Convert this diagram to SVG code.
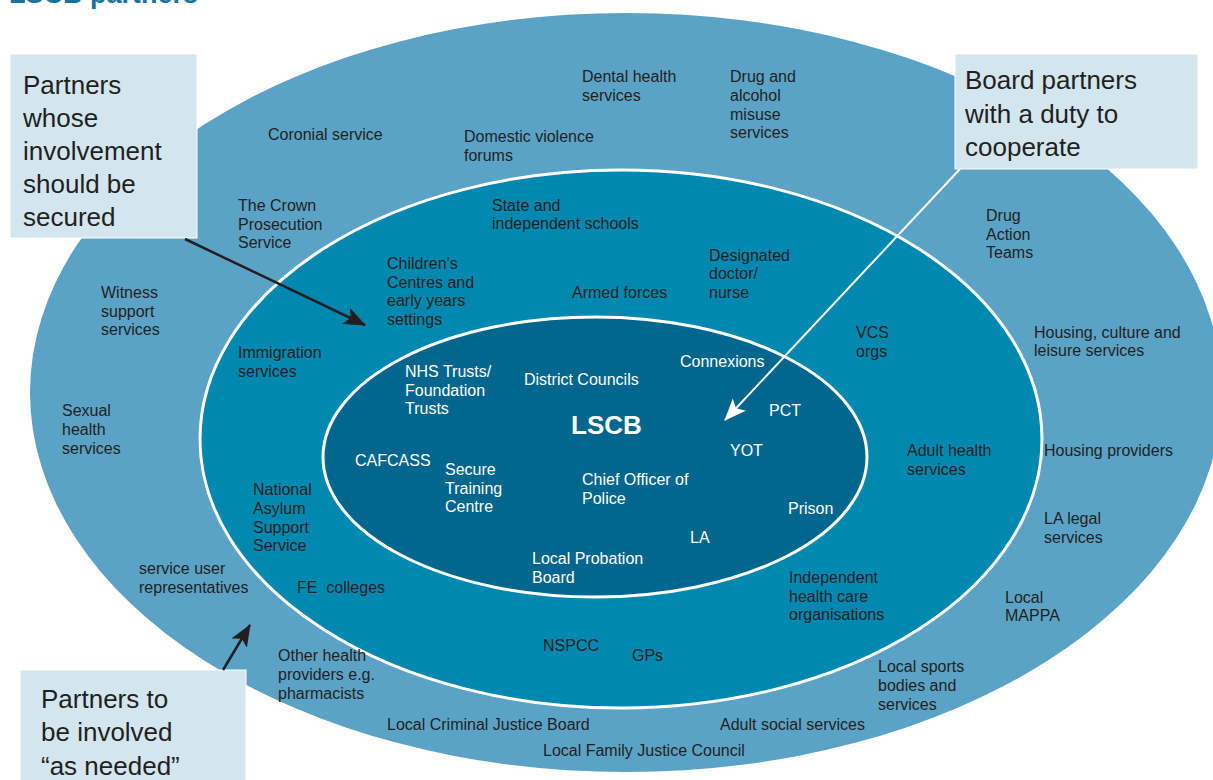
<svg xmlns="http://www.w3.org/2000/svg" width="1213" height="780" viewBox="0 0 1213 780">
<defs>
<style>
text{font-family:"Liberation Sans",Arial,sans-serif;font-size:16px;fill:#231f20}
.w{fill:#ffffff}
.call{font-size:26px;fill:#231f20}
.box{fill:#d3e6ef;stroke:#ffffff;stroke-width:1}
.ring{stroke:#ffffff;stroke-width:3}
</style>
<marker id="ahB" markerUnits="userSpaceOnUse" markerWidth="24" markerHeight="20" refX="21" refY="9" orient="auto">
<path d="M0,0 L22,9 L0,18 L5,9 z" fill="#231f20"/>
</marker>
<marker id="ahW" markerUnits="userSpaceOnUse" markerWidth="24" markerHeight="20" refX="21" refY="9" orient="auto">
<path d="M0,0 L22,9 L0,18 L5,9 z" fill="#ffffff"/>
</marker>
</defs>
<rect width="1213" height="780" fill="#ffffff"/>
<text x="9" y="3" style="font-size:27px;font-weight:bold;fill:#17739f">LSCB partners</text>

<g id="rings">
<ellipse id="outer" cx="626" cy="392.5" rx="596" ry="379.5" fill="#5ba3c6"/>
<ellipse id="middle" class="ring" cx="621" cy="439" rx="421" ry="269" fill="#0088b0"/>
<ellipse id="inner" class="ring" cx="595" cy="457" rx="272" ry="140" fill="#02668f"/>
</g>

<g id="outer-labels">
<g id="n-coronial"><text x="268" y="140">Coronial service</text></g>
<g id="n-dental"><text x="582" y="82">Dental health</text><text x="582" y="101">services</text></g>
<g id="n-drugalcohol"><text x="730" y="82">Drug and</text><text x="730" y="101">alcohol</text><text x="730" y="120">misuse</text><text x="730" y="138">services</text></g>
<g id="n-domestic"><text x="464" y="142">Domestic violence</text><text x="464" y="161">forums</text></g>
<g id="n-crown"><text x="238" y="211">The Crown</text><text x="238" y="230">Prosecution</text><text x="238" y="248">Service</text></g>
<g id="n-witness"><text x="101" y="298">Witness</text><text x="101" y="317">support</text><text x="101" y="335">services</text></g>
<g id="n-sexual"><text x="62" y="416">Sexual</text><text x="62" y="435">health</text><text x="62" y="454">services</text></g>
<g id="n-serviceuser"><text x="139" y="574">service user</text><text x="139" y="593">representatives</text></g>
<g id="n-otherhealth"><text x="278" y="661">Other health</text><text x="278" y="680">providers e.g.</text><text x="278" y="699">pharmacists</text></g>
<g id="n-lcjb"><text x="387" y="730">Local Criminal Justice Board</text></g>
<g id="n-lfjc"><text x="543" y="756">Local Family Justice Council</text></g>
<g id="n-adultsocial"><text x="720" y="730">Adult social services</text></g>
<g id="n-sports"><text x="878" y="672">Local sports</text><text x="878" y="691">bodies and</text><text x="878" y="710">services</text></g>
<g id="n-mappa"><text x="1005" y="603">Local</text><text x="1005" y="621">MAPPA</text></g>
<g id="n-lalegal"><text x="1044" y="524">LA legal</text><text x="1044" y="543">services</text></g>
<g id="n-housingprov"><text x="1044" y="456">Housing providers</text></g>
<g id="n-housingcult"><text x="1034" y="338">Housing, culture and</text><text x="1034" y="356">leisure services</text></g>
<g id="n-dat"><text x="986" y="221">Drug</text><text x="986" y="240">Action</text><text x="986" y="258">Teams</text></g>
</g>

<g id="middle-labels">
<g id="n-schools"><text x="492" y="211">State and</text><text x="492" y="229">independent schools</text></g>
<g id="n-childrens"><text x="387" y="269">Children’s</text><text x="387" y="288">Centres and</text><text x="387" y="306">early years</text><text x="387" y="325">settings</text></g>
<g id="n-armed"><text x="572" y="298">Armed forces</text></g>
<g id="n-designated"><text x="709" y="261">Designated</text><text x="709" y="279">doctor/</text><text x="709" y="298">nurse</text></g>
<g id="n-vcs"><text x="856" y="338">VCS</text><text x="856" y="357">orgs</text></g>
<g id="n-immigration"><text x="238" y="358">Immigration</text><text x="238" y="377">services</text></g>
<g id="n-adulthealth"><text x="907" y="456">Adult health</text><text x="907" y="475">services</text></g>
<g id="n-nass"><text x="253" y="495">National</text><text x="253" y="514">Asylum</text><text x="253" y="533">Support</text><text x="253" y="551">Service</text></g>
<g id="n-fe"><text x="297" y="593" xml:space="preserve">FE  colleges</text></g>
<g id="n-independent"><text x="789" y="583">Independent</text><text x="789" y="602">health care</text><text x="789" y="620">organisations</text></g>
<g id="n-nspcc"><text x="543" y="651">NSPCC</text></g>
<g id="n-gps"><text x="632" y="661">GPs</text></g>
</g>

<g id="inner-labels">
<g id="n-nhs"><text class="w" x="405" y="377">NHS Trusts/</text><text class="w" x="405" y="396">Foundation</text><text class="w" x="405" y="414">Trusts</text></g>
<g id="n-district"><text class="w" x="524" y="385">District Councils</text></g>
<g id="n-connexions"><text class="w" x="680" y="367">Connexions</text></g>
<g id="n-lscb"><text class="w" x="571" y="434" style="font-size:26px;font-weight:bold">LSCB</text></g>
<g id="n-pct"><text class="w" x="769" y="416">PCT</text></g>
<g id="n-yot"><text class="w" x="730" y="456">YOT</text></g>
<g id="n-cafcass"><text class="w" x="355" y="466">CAFCASS</text></g>
<g id="n-secure"><text class="w" x="445" y="475">Secure</text><text class="w" x="445" y="494">Training</text><text class="w" x="445" y="512">Centre</text></g>
<g id="n-police"><text class="w" x="582" y="485">Chief Officer of</text><text class="w" x="582" y="504">Police</text></g>
<g id="n-prison"><text class="w" x="788" y="514">Prison</text></g>
<g id="n-la"><text class="w" x="690" y="543">LA</text></g>
<g id="n-probation"><text class="w" x="532" y="564">Local Probation</text><text class="w" x="532" y="583">Board</text></g>
</g>

<g id="callout-secured">
<rect class="box" x="10" y="54" width="187" height="184"/>
<text class="call" x="23" y="94">Partners</text>
<text class="call" x="23" y="127">whose</text>
<text class="call" x="23" y="160">involvement</text>
<text class="call" x="23" y="193">should be</text>
<text class="call" x="23" y="226">secured</text>
</g>
<g id="callout-duty">
<rect class="box" x="955" y="54" width="243" height="115"/>
<text class="call" x="965" y="89">Board partners</text>
<text class="call" x="965" y="123">with a duty to</text>
<text class="call" x="965" y="156">cooperate</text>
</g>
<g id="callout-needed">
<rect class="box" x="20" y="670" width="226" height="115"/>
<text class="call" x="41" y="708">Partners to</text>
<text class="call" x="41" y="741">be involved</text>
<text class="call" x="41" y="775">“as needed”</text>
</g>

<g id="connectors">
<line x1="185" y1="239" x2="365" y2="325" stroke="#231f20" stroke-width="2.5" marker-end="url(#ahB)"/>
<line x1="223" y1="670" x2="250" y2="625" stroke="#231f20" stroke-width="2.5" marker-end="url(#ahB)"/>
<line x1="960" y1="169" x2="725" y2="420" stroke="#ffffff" stroke-width="2" marker-end="url(#ahW)"/>
</g>
</svg>
